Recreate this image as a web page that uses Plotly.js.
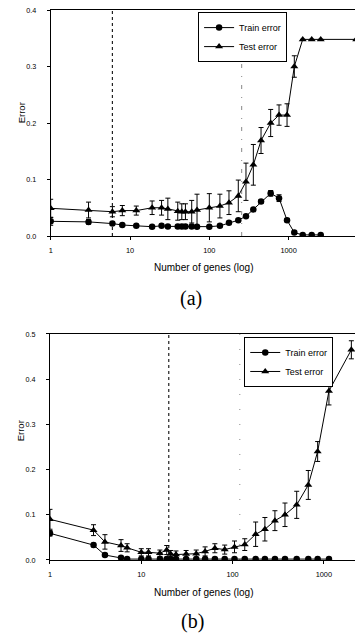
<!DOCTYPE html>
<html>
<head>
<meta charset="utf-8">
<script src="https://cdn.plot.ly/plotly-3.0.1.min.js"></script>
<style>
  html, body { margin: 0; padding: 0; background: #fff; }
  #chart { width: 355px; height: 637px; }
</style>
</head>
<body>
<div id="chart"></div>
<script>
// ---------- Panel (a) data ----------
const genesTestA  = [1, 3, 6, 8, 12, 19, 25, 30, 40, 45, 50, 60, 70, 100, 136, 177, 232, 290, 359, 449, 594, 757, 955, 1180, 1506, 1955, 2540, 7129];
const testA       = [0.049, 0.046, 0.043, 0.045, 0.045, 0.050, 0.050, 0.048, 0.044, 0.043, 0.043, 0.043, 0.046, 0.050, 0.053, 0.059, 0.071, 0.096, 0.126, 0.169, 0.200, 0.214, 0.214, 0.300, 0.348, 0.348, 0.348, 0.348];
const testErrA    = [0.016, 0.014, 0.009, 0.009, 0.008, 0.012, 0.013, 0.019, 0.016, 0.014, 0.014, 0.020, 0.028, 0.025, 0.021, 0.021, 0.028, 0.033, 0.036, 0.023, 0.024, 0.018, 0.020, 0.019, 0, 0, 0, 0];
const genesTrainA = [1, 3, 6, 8, 12, 19, 25, 30, 40, 45, 50, 60, 70, 100, 136, 177, 232, 290, 359, 449, 594, 757, 955, 1180, 1506, 1955, 2540];
const trainA      = [0.026, 0.025, 0.022, 0.0195, 0.018, 0.0165, 0.018, 0.017, 0.017, 0.017, 0.017, 0.017, 0.0165, 0.0165, 0.018, 0.0235, 0.028, 0.035, 0.047, 0.061, 0.0755, 0.067, 0.028, 0.006, 0.002, 0.002, 0.002];
const trainErrA   = [0.007, 0.004, 0.003, 0.002, 0.002, 0.002, 0.002, 0.002, 0.002, 0.002, 0.002, 0.002, 0.002, 0.002, 0.002, 0.002, 0.002, 0.002, 0.002, 0.003, 0.005, 0.006, 0.003, 0.002, 0, 0, 0];
const selectedA   = [6, 6];      // dotted reference line (genes)
const cutoffA     = [256, 256];  // dash-dot reference line (genes)
const refRangeA   = [0, 0.4];

// ---------- Panel (b) data ----------
const genesTestB  = [1, 3, 4, 6, 7, 10, 12, 16, 19, 21, 24, 31, 40, 50, 64, 82, 105, 136, 179, 226, 291, 375, 504, 675, 855, 1137, 2000];
const testB       = [0.090, 0.066, 0.040, 0.032, 0.027, 0.017, 0.017, 0.015, 0.022, 0.013, 0.012, 0.013, 0.014, 0.019, 0.026, 0.023, 0.029, 0.034, 0.057, 0.068, 0.087, 0.100, 0.122, 0.166, 0.240, 0.374, 0.465];
const testErrB    = [0.022, 0.012, 0.016, 0.013, 0.009, 0.008, 0.008, 0.007, 0.010, 0.008, 0.008, 0.008, 0.008, 0.010, 0.010, 0.010, 0.013, 0.013, 0.027, 0.026, 0.022, 0.026, 0.030, 0.032, 0.022, 0.031, 0.020];
const genesTrainB = [1, 3, 4, 6, 7, 10, 12, 16, 19, 21, 24, 31, 40, 50, 64, 82, 105, 136, 179, 226, 291, 375, 504, 675, 855, 1137];
const trainB      = [0.059, 0.033, 0.011, 0.005, 0.002, 0.002, 0.002, 0.002, 0.002, 0.002, 0.002, 0.002, 0.002, 0.002, 0.002, 0.002, 0.002, 0.002, 0.002, 0.002, 0.002, 0.002, 0.002, 0.002, 0.002, 0.002];
const trainErrB   = [0.006, 0.004, 0.003, 0.002, 0, 0, 0, 0, 0, 0, 0, 0, 0, 0, 0, 0, 0, 0, 0, 0, 0, 0, 0, 0, 0, 0];
const selectedB   = [20, 20];
const cutoffB     = [120, 120];
const refRangeB   = [0, 0.5];

const xTickVals   = [1, 10, 100, 1000];
const xTickText   = ['1', '10', '100', '1000'];

const FONT = 'Liberation Sans, Arial, sans-serif';

function errBar(arr) {
  return { type: 'data', array: arr, visible: true, color: '#000', thickness: 1, width: 2.5 };
}

const traces = [
  // panel (a)
  { x: selectedA, y: refRangeA, xaxis: 'x', yaxis: 'y', mode: 'lines', showlegend: false, hoverinfo: 'skip',
    line: { color: '#222', width: 1.2, dash: 'dot' } },
  { x: cutoffA, y: refRangeA, xaxis: 'x', yaxis: 'y', mode: 'lines', showlegend: false, hoverinfo: 'skip',
    line: { color: '#888', width: 1, dash: '4px,8px,1px,8px' } },
  { x: genesTrainA, y: trainA, error_y: errBar(trainErrA), xaxis: 'x', yaxis: 'y', name: 'Train error',
    mode: 'lines+markers', legend: 'legend',
    line: { color: '#000', width: 1 }, marker: { symbol: 'circle', size: 6.5, color: '#000' } },
  { x: genesTestA, y: testA, error_y: errBar(testErrA), xaxis: 'x', yaxis: 'y', name: 'Test error',
    mode: 'lines+markers', legend: 'legend',
    line: { color: '#000', width: 1 }, marker: { symbol: 'triangle-up', size: 7, color: '#000' } },
  // panel (b)
  { x: selectedB, y: refRangeB, xaxis: 'x2', yaxis: 'y2', mode: 'lines', showlegend: false, hoverinfo: 'skip',
    line: { color: '#222', width: 1.2, dash: 'dot' } },
  { x: cutoffB, y: refRangeB, xaxis: 'x2', yaxis: 'y2', mode: 'lines', showlegend: false, hoverinfo: 'skip',
    line: { color: '#888', width: 1, dash: '1px,14px' } },
  { x: genesTrainB, y: trainB, error_y: errBar(trainErrB), xaxis: 'x2', yaxis: 'y2', name: 'Train error',
    mode: 'lines+markers', legend: 'legend2',
    line: { color: '#000', width: 1 }, marker: { symbol: 'circle', size: 6.5, color: '#000' } },
  { x: genesTestB, y: testB, error_y: errBar(testErrB), xaxis: 'x2', yaxis: 'y2', name: 'Test error',
    mode: 'lines+markers', legend: 'legend2',
    line: { color: '#000', width: 1 }, marker: { symbol: 'triangle-up', size: 7, color: '#000' } }
];

const xCommon = {
  type: 'log', tickvals: xTickVals, ticktext: xTickText,
  showgrid: false, zeroline: false, showline: true, linecolor: '#000', linewidth: 1, mirror: true,
  ticks: 'outside', ticklen: 3, tickcolor: '#000', tickfont: { family: FONT, size: 7.4, color: '#000' },
  ticklabelstandoff: 4, fixedrange: true
};
const yCommon = {
  showgrid: false, zeroline: false, showline: true, linecolor: '#000', linewidth: 1,
  ticks: 'outside', ticklen: 3, tickcolor: '#000', tickfont: { family: FONT, size: 7.2, color: '#000' },
  dtick: 0.1, tickformat: '.1f', ticklabelstandoff: 9, fixedrange: true
};

const layout = {
  width: 355, height: 637,
  margin: { l: 0, r: 0, t: 0, b: 0 },
  paper_bgcolor: '#fff', plot_bgcolor: '#fff',
  font: { family: FONT, color: '#000' },
  showlegend: true,
  xaxis:  Object.assign({}, xCommon, { domain: [0.1428, 1], range: [0, 3.837], anchor: 'y' }),
  yaxis:  Object.assign({}, yCommon, { domain: [0.6295, 0.9843], range: refRangeA, anchor: 'x' }),
  xaxis2: Object.assign({}, xCommon, { domain: [0.1408, 1], range: [0, 3.341], anchor: 'y2' }),
  yaxis2: Object.assign({}, yCommon, { domain: [0.1209, 0.4757], range: refRangeB, anchor: 'x2' }),
  legend: {
    x: 0.558, y: 0.981, xanchor: 'left', yanchor: 'top',
    bordercolor: '#000', borderwidth: 1, bgcolor: '#fff',
    font: { family: FONT, size: 9, color: '#000' }, tracegroupgap: 0, itemwidth: 30
  },
  legend2: {
    x: 0.688, y: 0.471, xanchor: 'left', yanchor: 'top',
    bordercolor: '#000', borderwidth: 1, bgcolor: '#fff',
    font: { family: FONT, size: 9, color: '#000' }, tracegroupgap: 0, itemwidth: 30
  },
  annotations: [
    { text: 'Error', xref: 'paper', yref: 'paper', x: 0.060, y: 0.8226, textangle: -90, showarrow: false,
      xanchor: 'center', yanchor: 'middle', font: { family: FONT, size: 9.5, color: '#000' } },
    { text: 'Error', xref: 'paper', yref: 'paper', x: 0.060, y: 0.3234, textangle: -90, showarrow: false,
      xanchor: 'center', yanchor: 'middle', font: { family: FONT, size: 9.5, color: '#000' } },
    { text: 'Number of genes (log)', xref: 'paper', yref: 'paper', x: 0.5746, y: 0.5793, showarrow: false,
      xanchor: 'center', yanchor: 'middle', font: { family: FONT, size: 10, color: '#000' } },
    { text: 'Number of genes (log)', xref: 'paper', yref: 'paper', x: 0.5746, y: 0.0695, showarrow: false,
      xanchor: 'center', yanchor: 'middle', font: { family: FONT, size: 10, color: '#000' } },
    { text: '(a)', xref: 'paper', yref: 'paper', x: 0.539, y: 0.532, showarrow: false,
      xanchor: 'center', yanchor: 'middle', font: { family: 'Liberation Serif, Times New Roman, serif', size: 20, color: '#000' } },
    { text: '(b)', xref: 'paper', yref: 'paper', x: 0.541, y: 0.024, showarrow: false,
      xanchor: 'center', yanchor: 'middle', font: { family: 'Liberation Serif, Times New Roman, serif', size: 20, color: '#000' } }
  ]
};

Plotly.newPlot('chart', traces, layout, { displayModeBar: false, staticPlot: true });
</script>
</body>
</html>
